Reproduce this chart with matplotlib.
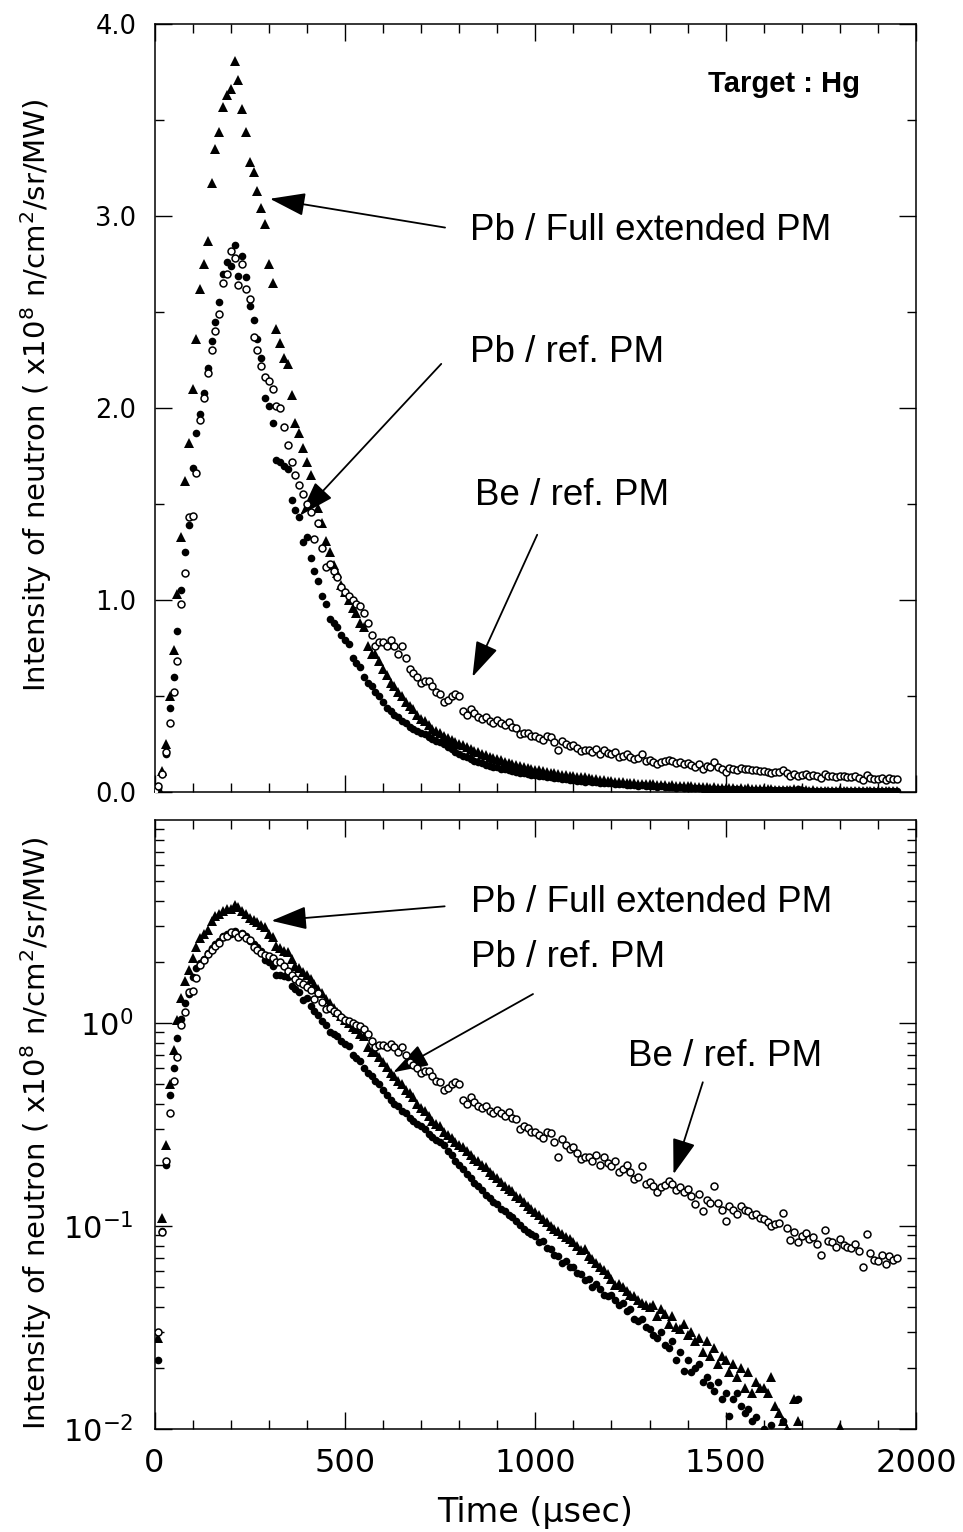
#!/usr/bin/env python
# -*- coding: utf-8 -*-

"""Neutron pulse shapes for a Hg target, linear and log view."""

import numpy as np
import matplotlib
matplotlib.use("Agg")
import matplotlib.pyplot as plt
from matplotlib import ticker

# time bins [usec], one point every 10 usec
time_us = np.arange(0, 1960, 10)

# Pb / Full extended PM (filled triangles)
pb_full = [
    0.004, 0.028, 0.11, 0.25, 0.50, 0.74, 1.03, 1.33, 1.62, 1.82,
    2.10, 2.36, 2.62, 2.75, 2.87, 3.17, 3.35, 3.44, 3.57, 3.63,
    3.66, 3.81, 3.71, 3.56, 3.44, 3.28, 3.23, 3.13, 3.04, 2.96,
    2.75, 2.65, 2.41, 2.34, 2.26, 2.23, 2.07, 1.92, 1.87, 1.79,
    1.72, 1.65, 1.56, 1.48, 1.40, 1.31, 1.25, 1.18, 1.14, 1.08,
    1.04, 1.00, 0.96, 0.93, 0.88, 0.86, 0.76, 0.72, 0.72, 0.68,
    0.64, 0.61, 0.57, 0.55, 0.52, 0.50, 0.47, 0.45, 0.43, 0.40,
    0.38, 0.37, 0.35, 0.33, 0.32, 0.31, 0.29, 0.28, 0.27, 0.26,
    0.25, 0.245, 0.235, 0.225, 0.215, 0.21, 0.20, 0.195, 0.185, 0.178,
    0.172, 0.165, 0.158, 0.152, 0.148, 0.141, 0.138, 0.132, 0.126, 0.121,
    0.117, 0.113, 0.108, 0.105, 0.100, 0.097, 0.095, 0.091, 0.088, 0.086,
    0.083, 0.080, 0.076, 0.077, 0.071, 0.069, 0.066, 0.063, 0.061, 0.058,
    0.055, 0.051, 0.052, 0.050, 0.048, 0.046, 0.045, 0.043, 0.042, 0.041,
    0.040, 0.041, 0.036, 0.039, 0.037, 0.033, 0.036, 0.032, 0.031, 0.033,
    0.029, 0.030, 0.027, 0.028, 0.024, 0.027, 0.023, 0.025, 0.021, 0.023,
    0.022, 0.019, 0.021, 0.018, 0.020, 0.016, 0.019, 0.015, 0.017, 0.016,
    0.016, 0.015, 0.018, 0.013, 0.012, 0.011, 0.010, 0.009, 0.014, 0.011,
    0.0095, 0.009, 0.008, 0.0085, 0.008, 0.007, 0.0075, 0.007, 0.0065, 0.006,
    0.0102, 0.006, 0.0055, 0.005, 0.0055, 0.005, 0.0045, 0.005, 0.0045, 0.004,
    0.004, 0.0045, 0.004, 0.0035, 0.004, 0.0035,
]

# Pb / ref. PM (filled circles)
pb_ref = [
    0.003, 0.022, 0.095, 0.20, 0.44, 0.60, 0.84, 1.05, 1.25, 1.39,
    1.69, 1.87, 1.97, 2.08, 2.21, 2.35, 2.45, 2.55, 2.70, 2.76,
    2.74, 2.85, 2.69, 2.79, 2.68, 2.53, 2.46, 2.36, 2.26, 2.05,
    2.01, 1.92, 1.73, 1.72, 1.70, 1.68, 1.52, 1.47, 1.43, 1.30,
    1.33, 1.22, 1.15, 1.10, 1.02, 0.98, 0.90, 0.88, 0.86, 0.82,
    0.79, 0.77, 0.70, 0.67, 0.65, 0.60, 0.57, 0.55, 0.52, 0.50,
    0.47, 0.44, 0.42, 0.40, 0.39, 0.37, 0.36, 0.34, 0.33, 0.32,
    0.31, 0.30, 0.285, 0.275, 0.265, 0.26, 0.25, 0.235, 0.225, 0.21,
    0.20, 0.19, 0.18, 0.172, 0.163, 0.157, 0.150, 0.143, 0.137, 0.131,
    0.128, 0.122, 0.118, 0.114, 0.111, 0.106, 0.101, 0.097, 0.094, 0.091,
    0.089, 0.083, 0.084, 0.078, 0.077, 0.072, 0.071, 0.066, 0.067, 0.063,
    0.063, 0.059, 0.058, 0.054, 0.055, 0.050, 0.052, 0.049, 0.046, 0.045,
    0.046, 0.043, 0.041, 0.042, 0.038, 0.039, 0.035, 0.034, 0.035, 0.032,
    0.031, 0.029, 0.028, 0.030, 0.026, 0.025, 0.027, 0.022, 0.024, 0.0193,
    0.022, 0.019, 0.020, 0.021, 0.017, 0.018, 0.0165, 0.0154, 0.017, 0.014,
    0.015, 0.0116, 0.014, 0.015, 0.013, 0.012, 0.0125, 0.011, 0.0115, 0.0095,
    0.010, 0.009, 0.0105, 0.0095, 0.0085, 0.011, 0.0098, 0.009, 0.008, 0.014,
    0.0085, 0.008, 0.0075, 0.007, 0.0068, 0.0065, 0.006, 0.0062, 0.0058, 0.0055,
    0.0052, 0.005, 0.0048, 0.0045, 0.0047, 0.0042, 0.0040, 0.0041, 0.0038, 0.0036,
    0.0035, 0.0034, 0.0033, 0.0031, 0.0032, 0.003,
]

# Be / ref. PM (open circles)
be_ref = [
    0.003, 0.030, 0.094, 0.21, 0.36, 0.52, 0.68, 0.98, 1.14, 1.43,
    1.44, 1.66, 1.94, 2.05, 2.18, 2.30, 2.40, 2.49, 2.65, 2.70,
    2.82, 2.78, 2.64, 2.75, 2.62, 2.57, 2.37, 2.30, 2.22, 2.16,
    2.14, 2.10, 2.01, 2.00, 1.90, 1.81, 1.72, 1.65, 1.60, 1.55,
    1.50, 1.46, 1.32, 1.40, 1.27, 1.17, 1.19, 1.15, 1.12, 1.07,
    1.04, 1.02, 1.00, 0.98, 0.97, 0.93, 0.88, 0.82, 0.76, 0.78,
    0.78, 0.76, 0.79, 0.76, 0.72, 0.76, 0.70, 0.64, 0.62, 0.60,
    0.57, 0.58, 0.58, 0.55, 0.52, 0.51, 0.47, 0.48, 0.50, 0.51,
    0.50, 0.42, 0.40, 0.43, 0.41, 0.39, 0.38, 0.39, 0.37, 0.36,
    0.374, 0.36, 0.35, 0.365, 0.34, 0.336, 0.30, 0.31, 0.305, 0.29,
    0.29, 0.28, 0.27, 0.29, 0.287, 0.26, 0.22, 0.268, 0.25, 0.24,
    0.245, 0.23, 0.213, 0.22, 0.218, 0.21, 0.225, 0.20, 0.218, 0.205,
    0.198, 0.21, 0.184, 0.19, 0.20, 0.185, 0.17, 0.175, 0.198, 0.161,
    0.165, 0.158, 0.147, 0.155, 0.16, 0.167, 0.161, 0.15, 0.155, 0.147,
    0.152, 0.14, 0.128, 0.144, 0.119, 0.135, 0.13, 0.158, 0.13, 0.12,
    0.106, 0.126, 0.12, 0.115, 0.125, 0.12, 0.118, 0.113, 0.115, 0.11,
    0.108, 0.105, 0.10, 0.102, 0.104, 0.116, 0.098, 0.085, 0.094, 0.083,
    0.089, 0.092, 0.086, 0.088, 0.082, 0.072, 0.096, 0.084, 0.083, 0.079,
    0.086, 0.081, 0.079, 0.078, 0.082, 0.075, 0.063, 0.091, 0.074, 0.068,
    0.067, 0.072, 0.065, 0.071, 0.068, 0.070,
]

YLABEL = "Intensity of neutron ( x10$\\mathdefault{^8}$ n/cm$\\mathdefault{^2}$/sr/MW)"
ANNOT_FONT = "Liberation Sans"


def draw_series(ax):
    ax.plot(time_us, pb_full, ls="none", marker="^", ms=6.6, color="black", mew=0, zorder=3)
    ax.plot(time_us, pb_ref, ls="none", marker="o", ms=5.5, color="black", mew=0, zorder=3)
    ax.plot(time_us, be_ref, ls="none", marker="o", ms=5.0, mfc="white", mec="black", mew=1.1, zorder=4)


def style_axes(ax):
    ax.set_xlim(0, 2000)
    ax.xaxis.set_major_locator(ticker.MultipleLocator(500))
    ax.xaxis.set_minor_locator(ticker.MultipleLocator(100))
    ax.tick_params(which="both", direction="in", top=True, right=True, width=1.0)
    ax.tick_params(which="major", length=12)
    ax.tick_params(which="minor", length=6.5)
    for spine in ax.spines.values():
        spine.set_linewidth(1.1)


def arrow(ax, tail, tip):
    ax.annotate("", xy=tip, xytext=tail,
                arrowprops=dict(arrowstyle="-|>,head_length=1.1,head_width=0.36", mutation_scale=20,
                                lw=1.3, color="black", shrinkA=0, shrinkB=0))


def label(ax, x, y, text, **kw):
    ax.text(x, y, text, family=ANNOT_FONT, fontsize=26.5, ha="left", va="baseline", **kw)


fig = plt.figure(figsize=(9.63, 15.32), dpi=100)
plt.rcParams.update({"font.family": "DejaVu Sans"})

# linear diagram
ax1 = fig.add_axes([0.1605, 0.4830, 0.7907, 0.5013])
draw_series(ax1)
style_axes(ax1)
ax1.set_ylim(0, 4.0)
ax1.yaxis.set_major_locator(ticker.MultipleLocator(1.0))
ax1.yaxis.set_minor_locator(ticker.MultipleLocator(0.5))
ax1.yaxis.set_major_formatter(ticker.FormatStrFormatter("%.1f"))
ax1.xaxis.set_major_formatter(ticker.NullFormatter())
ax1.tick_params(axis="y", labelsize=18.5, pad=13)

label(ax1, 828, 2.875, "Pb / Full extended PM")
label(ax1, 828, 2.24, "Pb / ref. PM")
label(ax1, 842, 1.495, "Be / ref. PM")
ax1.text(1853, 3.646, "Target : Hg", family=ANNOT_FONT, fontweight="bold", fontsize=21,
         ha="right", va="baseline")
arrow(ax1, (763, 2.94), (303, 3.09))
arrow(ax1, (753, 2.23), (382, 1.44))
arrow(ax1, (1005, 1.34), (835, 0.60))

# log diagram
ax2 = fig.add_axes([0.1605, 0.0672, 0.7907, 0.3975])
draw_series(ax2)
ax2.set_yscale("log")
style_axes(ax2)
ax2.set_ylim(0.01, 10)
ax2.yaxis.set_major_locator(ticker.FixedLocator([1e-2, 1e-1, 1e0]))
ax2.yaxis.set_major_formatter(ticker.LogFormatterSciNotation())
ax2.yaxis.set_minor_locator(ticker.LogLocator(base=10, subs=np.arange(2, 10), numticks=20))
ax2.yaxis.set_minor_formatter(ticker.NullFormatter())
ax2.tick_params(axis="y", labelsize=22, pad=15)
ax2.tick_params(axis="x", labelsize=23, pad=14)
ax2.set_xlabel("Time (µsec)", fontsize=24, labelpad=12)

label(ax2, 831, 3.52, "Pb / Full extended PM")
label(ax2, 831, 1.89, "Pb / ref. PM")
label(ax2, 1243, 0.614, "Be / ref. PM")
arrow(ax2, (762, 3.76), (307, 3.19))
arrow(ax2, (994, 1.39), (627, 0.572))
arrow(ax2, (1440, 0.511), (1363, 0.180))

# y labels, placed by hand left of the tick labels
fig.text(0.037, 1 - 395 / 1532, YLABEL, rotation=90, ha="center", va="center", fontsize=21)
fig.text(0.037, 1 - 1133 / 1532, YLABEL, rotation=90, ha="center", va="center", fontsize=21)

fig.savefig("out.png", dpi=100)
